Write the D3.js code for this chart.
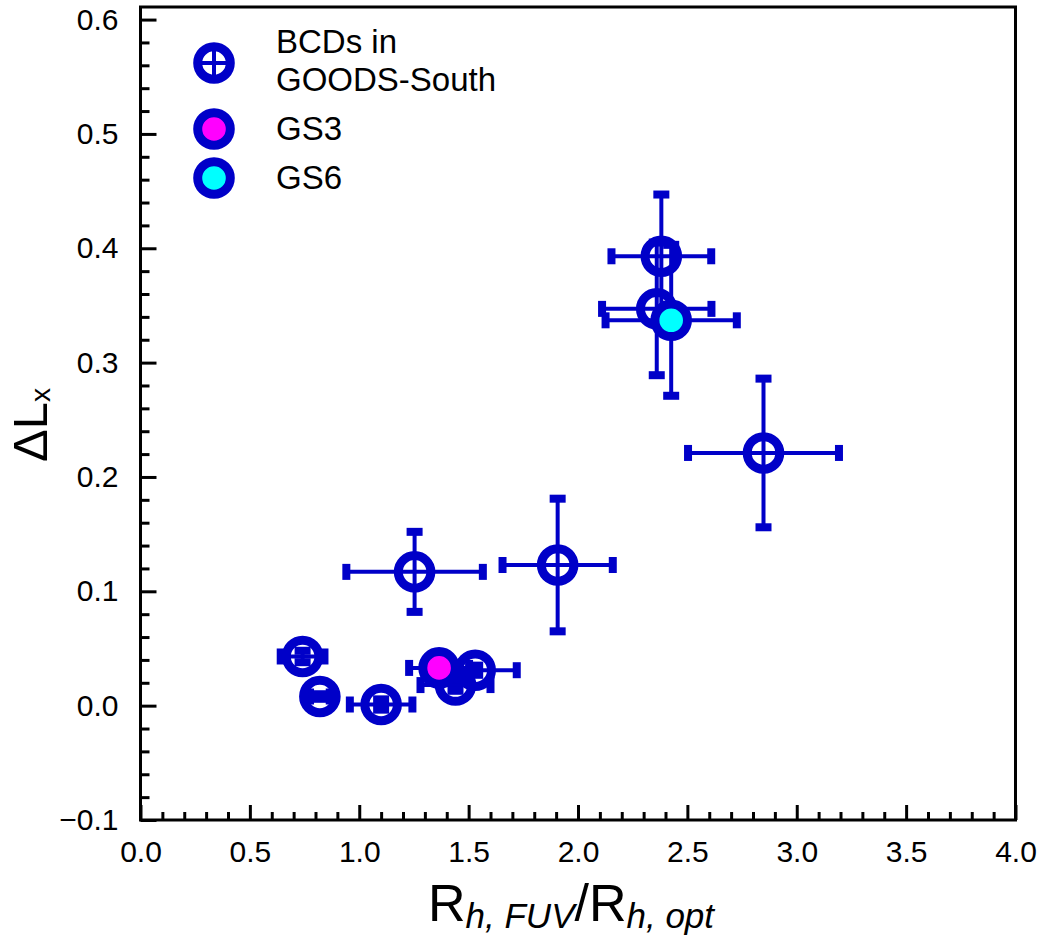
<!DOCTYPE html>
<html>
<head>
<meta charset="utf-8">
<script src="https://cdn.jsdelivr.net/npm/d3@7"></script>
<style>
  html, body { margin: 0; padding: 0; background: #fff; }
  svg { display: block; font-family: "Liberation Sans", Arial, sans-serif; }
</style>
</head>
<body>
<svg id="chart" width="1037" height="937"></svg>
<script>
// Galaxies: FUV/optical half-light radius ratio vs. ΔLx
const galaxyIds = ["A", "B", "C", "D", "E", "F", "G", "H", "I", "J", "K", "L"];
const ratioValues = [0.741, 0.82, 1.10, 1.44, 1.53, 1.253, 1.907, 2.848, 2.381, 2.36, 1.365, 2.426];
const deltaLxValues = [0.043, 0.008, 0.001, 0.018, 0.031, 0.117, 0.123, 0.221, 0.393, 0.347, 0.033, 0.337];
const ratioErrors = [0.10, 0.045, 0.143, 0.16, 0.19, 0.312, 0.252, 0.345, 0.228, 0.25, 0.137, 0.30];
const deltaLxErrors = [0.005, 0.002, 0.0045, 0.005, 0.004, 0.035, 0.058, 0.065, 0.054, 0.058, 0.005, 0.066];
// which sample each galaxy belongs to
const groups = ["bcd", "bcd", "bcd", "bcd", "bcd", "bcd", "bcd", "bcd", "bcd", "bcd", "gs3", "gs6"];

const legendLabels = [["BCDs in", "GOODS-South"], ["GS3"], ["GS6"]];
const legendGroups = ["bcd", "gs3", "gs6"];

const xTickValues = [0, 0.5, 1.0, 1.5, 2.0, 2.5, 3.0, 3.5, 4.0];
const yTickValues = [-0.1, 0, 0.1, 0.2, 0.3, 0.4, 0.5, 0.6];

const BLUE = "#0000c8";
const fillColor = { bcd: "none", gs3: "#ff00ff", gs6: "#00ffff" };

const svg = d3.select("#chart");
const plotLeft = 140.5, plotRight = 1015.5, plotTop = 7, plotBottom = 820;

const x = d3.scaleLinear().domain([0, 4]).range([plotLeft, plotRight]);
const y = d3.scaleLinear().domain([-0.1, 0.611]).range([plotBottom, plotTop]);

// frame
svg.append("rect")
  .attr("x", plotLeft).attr("y", plotTop)
  .attr("width", plotRight - plotLeft).attr("height", plotBottom - plotTop)
  .attr("fill", "none").attr("stroke", "#000").attr("stroke-width", 3);

// minor ticks
const xMinor = d3.range(0, 40).map(i => i / 10).filter(v => Math.abs(v * 2 - Math.round(v * 2)) > 1e-6);
const yMinor = d3.range(-10, 61, 2).map(i => i / 100).filter(v => Math.abs(v * 10 - Math.round(v * 10)) > 1e-6);

const fmt = d3.format(".1f");

function styleAxis(g) {
  g.select(".domain").remove();
  g.selectAll(".tick line").attr("stroke", "#000").attr("stroke-width", 3);
  g.selectAll(".tick text").attr("fill", "#000").style("font-size", "30px")
    .style("font-family", "'Liberation Sans', Arial, sans-serif");
}

svg.append("g").attr("transform", `translate(0,${plotBottom})`)
  .call(d3.axisBottom(x).tickValues(xMinor).tickSize(-8).tickFormat(""))
  .call(styleAxis);
svg.append("g").attr("transform", `translate(0,${plotBottom})`)
  .call(d3.axisBottom(x).tickValues(xTickValues).tickSize(-15).tickPadding(21).tickFormat(fmt))
  .call(styleAxis);

svg.append("g").attr("transform", `translate(${plotLeft},0)`)
  .call(d3.axisLeft(y).tickValues(yMinor).tickSize(-9).tickFormat(""))
  .call(styleAxis);
svg.append("g").attr("transform", `translate(${plotLeft},0)`)
  .call(d3.axisLeft(y).tickValues(yTickValues).tickSize(-16).tickPadding(22).tickFormat(fmt))
  .call(styleAxis);

// axis titles
const xTitle = svg.append("text")
  .attr("x", 428).attr("y", 921)
  .attr("fill", "#000").style("font-size", "52px");
xTitle.append("tspan").text("R");
xTitle.append("tspan").attr("dy", 7).style("font-size", "35px").style("font-style", "italic").text("h, FUV");
xTitle.append("tspan").attr("dy", -7).text("/R");
xTitle.append("tspan").attr("dy", 7).style("font-size", "35px").style("font-style", "italic").text("h, opt");

const yTitle = svg.append("text")
  .attr("transform", "translate(47,425) rotate(-90)")
  .attr("text-anchor", "middle")
  .attr("fill", "#000").style("font-size", "49px");
yTitle.append("tspan").text("ΔL");
yTitle.append("tspan").attr("dy", 3).style("font-size", "28px").text("x");

// error bars and markers
const R = 16.3, RING = 9, BAR = 4, CAP_T = 8, CAP_L = 16;

const points = galaxyIds.map((id, i) => ({
  id, x: ratioValues[i], y: deltaLxValues[i],
  xe: ratioErrors[i], ye: deltaLxErrors[i], group: groups[i]
}));
// plain BCD markers first, highlighted galaxies on top
points.sort((a, b) => (a.group === "bcd" ? 0 : 1) - (b.group === "bcd" ? 0 : 1));

const plot = svg.append("g");
points.forEach(p => {
  const g = plot.append("g");
  const cx = x(p.x), cy = y(p.y);
  const x0 = x(p.x - p.xe), x1 = x(p.x + p.xe);
  const y0 = y(p.y - p.ye), y1 = y(p.y + p.ye);
  g.append("line").attr("x1", x0).attr("x2", x1).attr("y1", cy).attr("y2", cy)
    .attr("stroke", BLUE).attr("stroke-width", BAR);
  g.append("line").attr("x1", cx).attr("x2", cx).attr("y1", y0).attr("y2", y1)
    .attr("stroke", BLUE).attr("stroke-width", BAR);
  [x0, x1].forEach(xx => g.append("rect")
    .attr("x", xx - CAP_T / 2).attr("y", cy - CAP_L / 2)
    .attr("width", CAP_T).attr("height", CAP_L).attr("fill", BLUE));
  [y0, y1].forEach(yy => g.append("rect")
    .attr("x", cx - CAP_L / 2).attr("y", yy - CAP_T / 2)
    .attr("width", CAP_L).attr("height", CAP_T).attr("fill", BLUE));
  g.append("circle").attr("cx", cx).attr("cy", cy).attr("r", R)
    .attr("fill", fillColor[p.group]).attr("stroke", BLUE).attr("stroke-width", RING);
});

// legend
const legendMarkerX = 214, legendTextX = 276;
const legendMarkerY = [63, 129, 178];
const legendBaselines = [[53, 91], [140], [189]];
legendGroups.forEach((grp, i) => {
  const g = svg.append("g");
  const cy = legendMarkerY[i];
  if (grp === "bcd") {
    g.append("line").attr("x1", legendMarkerX - R).attr("x2", legendMarkerX + R)
      .attr("y1", cy).attr("y2", cy).attr("stroke", BLUE).attr("stroke-width", BAR);
    g.append("line").attr("x1", legendMarkerX).attr("x2", legendMarkerX)
      .attr("y1", cy - R).attr("y2", cy + R).attr("stroke", BLUE).attr("stroke-width", BAR);
  }
  g.append("circle").attr("cx", legendMarkerX).attr("cy", cy).attr("r", R)
    .attr("fill", fillColor[grp]).attr("stroke", BLUE).attr("stroke-width", RING);
  legendLabels[i].forEach((line, j) => {
    g.append("text").attr("x", legendTextX).attr("y", legendBaselines[i][j])
      .attr("fill", "#000").style("font-size", "33px").text(line);
  });
});
</script>
</body>
</html>
